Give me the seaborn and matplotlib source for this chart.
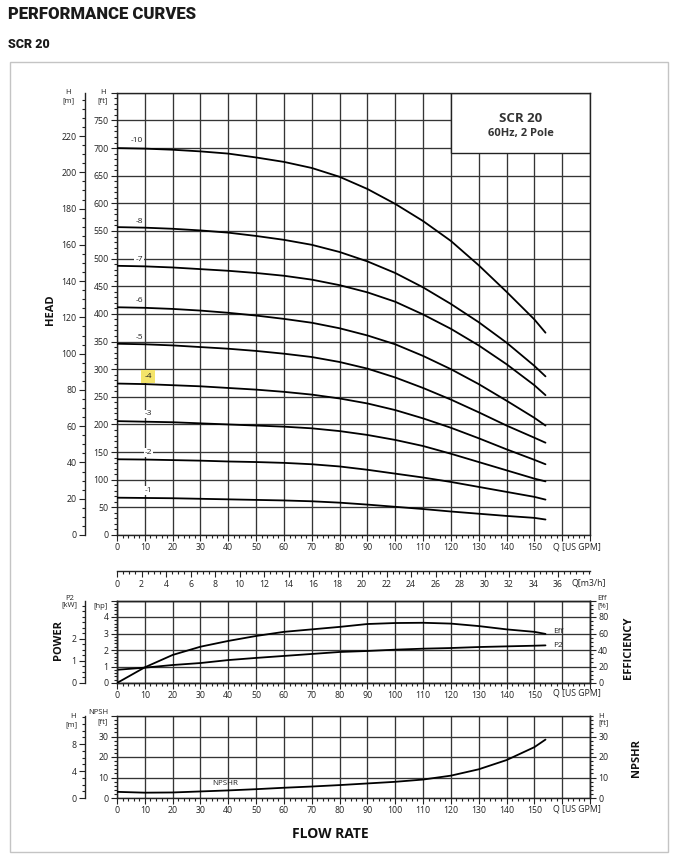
import numpy as np
import pandas as pd
import matplotlib
matplotlib.use("Agg")
import matplotlib.pyplot as plt
import seaborn as sns
from matplotlib.ticker import MultipleLocator, FixedLocator
from matplotlib.patches import Rectangle

# ---------------- data ----------------
q = [0, 10, 20, 30, 40, 50, 60, 70, 80, 90, 100, 110, 120, 130, 140, 150, 154]
head_10 = [700, 699, 697, 694, 690, 683, 675, 664, 648, 626, 599, 568, 532, 488, 440, 390, 366]
head_8 = [557, 556, 554, 551, 547, 541, 534, 525, 512, 495, 474, 448, 418, 385, 348, 306, 287]
head_7 = [487, 486, 484, 481, 478, 474, 469, 462, 452, 439, 422, 399, 373, 343, 309, 271, 253]
head_6 = [412, 411, 409, 406, 402, 397, 391, 384, 374, 361, 345, 324, 300, 273, 243, 212, 198]
head_5 = [346, 345, 343, 340, 337, 333, 328, 322, 313, 301, 285, 266, 245, 222, 198, 176, 167]
head_4 = [274, 273, 271, 269, 266, 263, 259, 254, 247, 238, 226, 211, 194, 175, 155, 136, 128]
head_3 = [206, 205, 204, 202, 200, 198, 196, 193, 188, 181, 172, 161, 147, 132, 117, 102, 97]
head_2 = [137, 136.5, 135.5, 134.5, 133, 132, 130.5, 128, 124, 118, 111, 104, 96, 87, 78, 69, 64]
head_1 = [67.5, 67, 66.5, 65.5, 64.5, 63.5, 62.5, 61, 58.5, 55, 51, 47, 42.5, 38.5, 34.5, 31, 28]
models = ["-10", "-8", "-7", "-6", "-5", "-4", "-3", "-2", "-1"]
heads = [head_10, head_8, head_7, head_6, head_5, head_4, head_3, head_2, head_1]
label_q = [7.1, 7.9, 7.9, 7.9, 7.9, 11.2, 11.2, 11.2, 11.2]
label_h = [713, 568, 498, 424, 358, 286, 219, 149, 80]

p2_hp = [0.80, 0.93, 1.09, 1.21, 1.39, 1.52, 1.64, 1.76, 1.88, 1.94, 2.02, 2.08, 2.12, 2.18, 2.22, 2.26, 2.28]
eff_pct = [0, 19, 34, 44, 51, 57, 62, 65, 68, 71.5, 72.7, 73, 72, 69, 65, 62, 59.5]
npshr_ft = [3.0, 2.6, 2.7, 3.2, 3.7, 4.3, 5.0, 5.6, 6.3, 7.1, 7.9, 9.0, 10.9, 14.0, 18.5, 24.8, 28.5]

gpm_ticks = list(range(0, 171, 10))
gpm_labels = [str(v) if v <= 150 else "" for v in gpm_ticks]
m3h_ticks = list(range(0, 37, 2))

# ---------------- style ----------------
sns.set_theme(style="ticks")
plt.rcParams["font.family"] = ["Open Sans", "DejaVu Sans"]
plt.rcParams["axes.linewidth"] = 1.0

W, H = 678, 859
fig = plt.figure(figsize=(W / 100, H / 100), dpi=100)
fig.patch.set_facecolor("white")


def rect(l, t, r, b):
    return [l / W, 1 - b / H, (r - l) / W, (b - t) / H]


def ftext(x, y, s, **kw):
    kw.setdefault("fontsize", 6)
    kw.setdefault("color", "#222222")
    kw.setdefault("ha", "center")
    kw.setdefault("va", "center")
    fig.text(x / W, 1 - y / H, s, **kw)


GC = "#353535"
TC = "#222222"


def base_style(ax, ymax):
    ax.set_xlim(0, 170)
    ax.set_ylim(0, ymax)
    ax.set_xticks(gpm_ticks)
    ax.set_xticklabels(gpm_labels)
    ax.xaxis.set_minor_locator(MultipleLocator(2))
    ax.grid(True, which="major", color=GC, lw=0.95)
    ax.set_axisbelow(True)
    for s in ax.spines.values():
        s.set_color(TC)
        s.set_linewidth(1.0)
    ax.tick_params(which="both", direction="out", colors=TC, labelsize=6.3, width=0.8, pad=2)
    ax.tick_params(which="major", length=4)
    ax.tick_params(which="minor", length=2.5)
    ax.set_xlabel("")
    ax.set_ylabel("")


def sec_style(sec, major, labels, minor):
    sec.yaxis.set_major_locator(FixedLocator(major))
    sec.set_yticklabels(labels)
    sec.yaxis.set_minor_locator(MultipleLocator(minor))
    sec.tick_params(which="both", direction="out", colors=TC, labelsize=6.3, width=0.8, pad=2)
    sec.tick_params(which="major", length=4)
    sec.tick_params(which="minor", length=2.5)
    for s in sec.spines.values():
        s.set_color(TC)
        s.set_linewidth(1.0)


# ---------------- HEAD chart ----------------
ax_h = fig.add_axes(rect(117, 92.8, 590, 535))
df = pd.DataFrame({
    "model": np.repeat(models, len(q)),
    "Q": np.tile(q, len(models)),
    "H": np.concatenate(heads),
})
sns.lineplot(data=df, x="Q", y="H", units="model", estimator=None, color="black",
             lw=1.3, ax=ax_h, legend=False, zorder=3)
base_style(ax_h, 800)
ax_h.set_yticks(list(range(0, 801, 50)))
ax_h.set_yticklabels([str(v) if v <= 750 else "" for v in range(0, 801, 50)])
ax_h.yaxis.set_minor_locator(MultipleLocator(10))

for m, lq, lh in zip(models, label_q, label_h):
    fc = "#f4e46a" if m == "-4" else "white"
    pad = 2.2 if m == "-4" else 0.6
    ax_h.text(lq, lh, m, fontsize=6, color=TC, ha="center", va="center", zorder=4,
              bbox=dict(boxstyle=f"square,pad={pad/6:.2f}", fc=fc, ec="none"))

ax_h.add_patch(Rectangle((120.1, 691), 49.9, 109, fc="white", ec=TC, lw=1.0, zorder=2))
ax_h.text(145, 754, "SCR 20", fontsize=9.5, fontweight="bold", color="#333333",
          ha="center", va="center", zorder=5)
ax_h.text(145, 727, "60Hz, 2 Pole", fontsize=8, fontweight="bold", color="#333333",
          ha="center", va="center", zorder=5)

sec_m = ax_h.secondary_yaxis(-32 / 473, functions=(lambda f: f * 0.3048, lambda m: m / 0.3048))
sec_style(sec_m, list(range(0, 221, 20)), [str(v) for v in range(0, 221, 20)], 5)

ftext(577, 547, "Q [US GPM]", fontsize=6.3)
ftext(68, 93, "H", fontsize=5.5)
ftext(68, 101, "[m]", fontsize=5.5)
ftext(103, 93, "H", fontsize=5.5)
ftext(103, 101, "[ft]", fontsize=5.5)
ftext(50, 310, "HEAD", fontsize=8, fontweight="bold", rotation=90, color="#111111")

# ---------------- m3/h axis ----------------
ax_q = fig.add_axes(rect(117, 571, 590, 571.3))
ax_q.set_xlim(0, 170 / 4.4029)
ax_q.set_ylim(0, 1)
ax_q.set_yticks([])
for side in ["left", "right", "top"]:
    ax_q.spines[side].set_visible(False)
ax_q.spines["bottom"].set_color(TC)
ax_q.set_xticks(m3h_ticks)
ax_q.set_xticklabels([str(v) for v in m3h_ticks])
ax_q.xaxis.set_minor_locator(MultipleLocator(0.5))
ax_q.tick_params(which="both", direction="out", colors=TC, labelsize=6.3, width=0.8, pad=2)
ax_q.tick_params(which="major", length=4)
ax_q.tick_params(which="minor", length=2.5)
ax_q.patch.set_alpha(0)
ftext(589, 583, "Q[m3/h]", fontsize=6.3)

# ---------------- POWER chart ----------------
ax_p = fig.add_axes(rect(117, 600.5, 590, 683))
sns.lineplot(x=q, y=p2_hp, color="black", lw=1.3, ax=ax_p, legend=False, zorder=3)
base_style(ax_p, 5)
ax_p.set_yticks([0, 1, 2, 3, 4, 5])
ax_p.set_yticklabels(["0", "1", "2", "3", "4", ""])
ax_p.yaxis.set_minor_locator(MultipleLocator(0.2))

ax_e = ax_p.twinx()
sns.lineplot(x=q, y=eff_pct, color="black", lw=1.3, ax=ax_e, legend=False, zorder=3)
ax_e.set_ylim(0, 100)
ax_e.set_xlim(0, 170)
ax_e.grid(False)
ax_e.set_ylabel("")
ax_e.set_yticks([0, 20, 40, 60, 80, 100])
ax_e.set_yticklabels(["0", "20", "40", "60", "80", ""])
ax_e.yaxis.set_minor_locator(MultipleLocator(5))
ax_e.tick_params(which="both", direction="out", colors=TC, labelsize=6.3, width=0.8, pad=2)
ax_e.tick_params(which="major", length=4)
ax_e.tick_params(which="minor", length=2.5)
for s in ax_e.spines.values():
    s.set_color(TC)
ax_e.text(158.5, 63, "Eff", fontsize=6, color=TC, ha="center", va="center")
ax_e.text(158.5, 45.5, "P2", fontsize=6, color=TC, ha="center", va="center")

sec_kw = ax_p.secondary_yaxis(-32 / 473, functions=(lambda h: h * 0.7457, lambda k: k / 0.7457))
sec_style(sec_kw, [0, 1, 2], ["0", "1", "2"], 0.25)

ftext(577, 693, "Q [US GPM]", fontsize=6.3)
ftext(70, 598, "P2", fontsize=5.5)
ftext(69, 605, "[kW]", fontsize=5.5)
ftext(100, 606, "[hp]", fontsize=5.5)
ftext(602, 599, "Eff", fontsize=5.5)
ftext(603, 606, "[%]", fontsize=5.5)
ftext(58, 640, "POWER", fontsize=8, fontweight="bold", rotation=90, color="#111111")
ftext(628, 648, "EFFICIENCY", fontsize=8, fontweight="bold", rotation=90, color="#111111")

# ---------------- NPSH chart ----------------
ax_n = fig.add_axes(rect(117, 716, 590, 798))
sns.lineplot(x=q, y=npshr_ft, color="black", lw=1.3, ax=ax_n, legend=False, zorder=3)
base_style(ax_n, 40)
ax_n.set_yticks([0, 10, 20, 30, 40])
ax_n.set_yticklabels(["0", "10", "20", "30", ""])
ax_n.yaxis.set_minor_locator(MultipleLocator(2))
ax_n.text(38.8, 7.3, "NPSHR", fontsize=5.8, color=TC, ha="center", va="center")

sec_nm = ax_n.secondary_yaxis(-32 / 473, functions=(lambda f: f * 0.3048, lambda m: m / 0.3048))
sec_style(sec_nm, [0, 4, 8], ["0", "4", "8"], 1)
sec_nr = ax_n.secondary_yaxis("right", functions=(lambda f: f, lambda f: f))
sec_style(sec_nr, [0, 10, 20, 30], ["0", "10", "20", "30"], 2)

ftext(577, 809, "Q [US GPM]", fontsize=6.3)
ftext(73, 716, "H", fontsize=5.5)
ftext(71, 725, "[m]", fontsize=5.5)
ftext(98, 713, "NPSH", fontsize=5.5)
ftext(103, 722, "[ft]", fontsize=5.5)
ftext(601, 716, "H", fontsize=5.5)
ftext(604, 723, "[ft]", fontsize=5.5)
ftext(636, 758, "NPSHR", fontsize=8, fontweight="bold", rotation=90, color="#111111")

ftext(330, 834, "FLOW RATE", fontsize=10, fontweight="bold", color="#111111")

# ---------------- headers and frame ----------------
fig.text(8 / W, 1 - 14 / H, "PERFORMANCE CURVES", fontsize=12, fontweight="heavy",
         family=["Roboto", "DejaVu Sans"], color="#1a1a1a", ha="left", va="center")
fig.text(8 / W, 1 - 45 / H, "SCR 20", fontsize=9, fontweight="heavy",
         family=["Roboto", "DejaVu Sans"], color="#1a1a1a", ha="left", va="center")
fig.add_artist(Rectangle((10 / W, 1 - 852 / H), 658 / W, 790 / H, transform=fig.transFigure,
                         fill=False, ec="#c4c4c4", lw=1.0))

fig.savefig("out.png", dpi=100)
